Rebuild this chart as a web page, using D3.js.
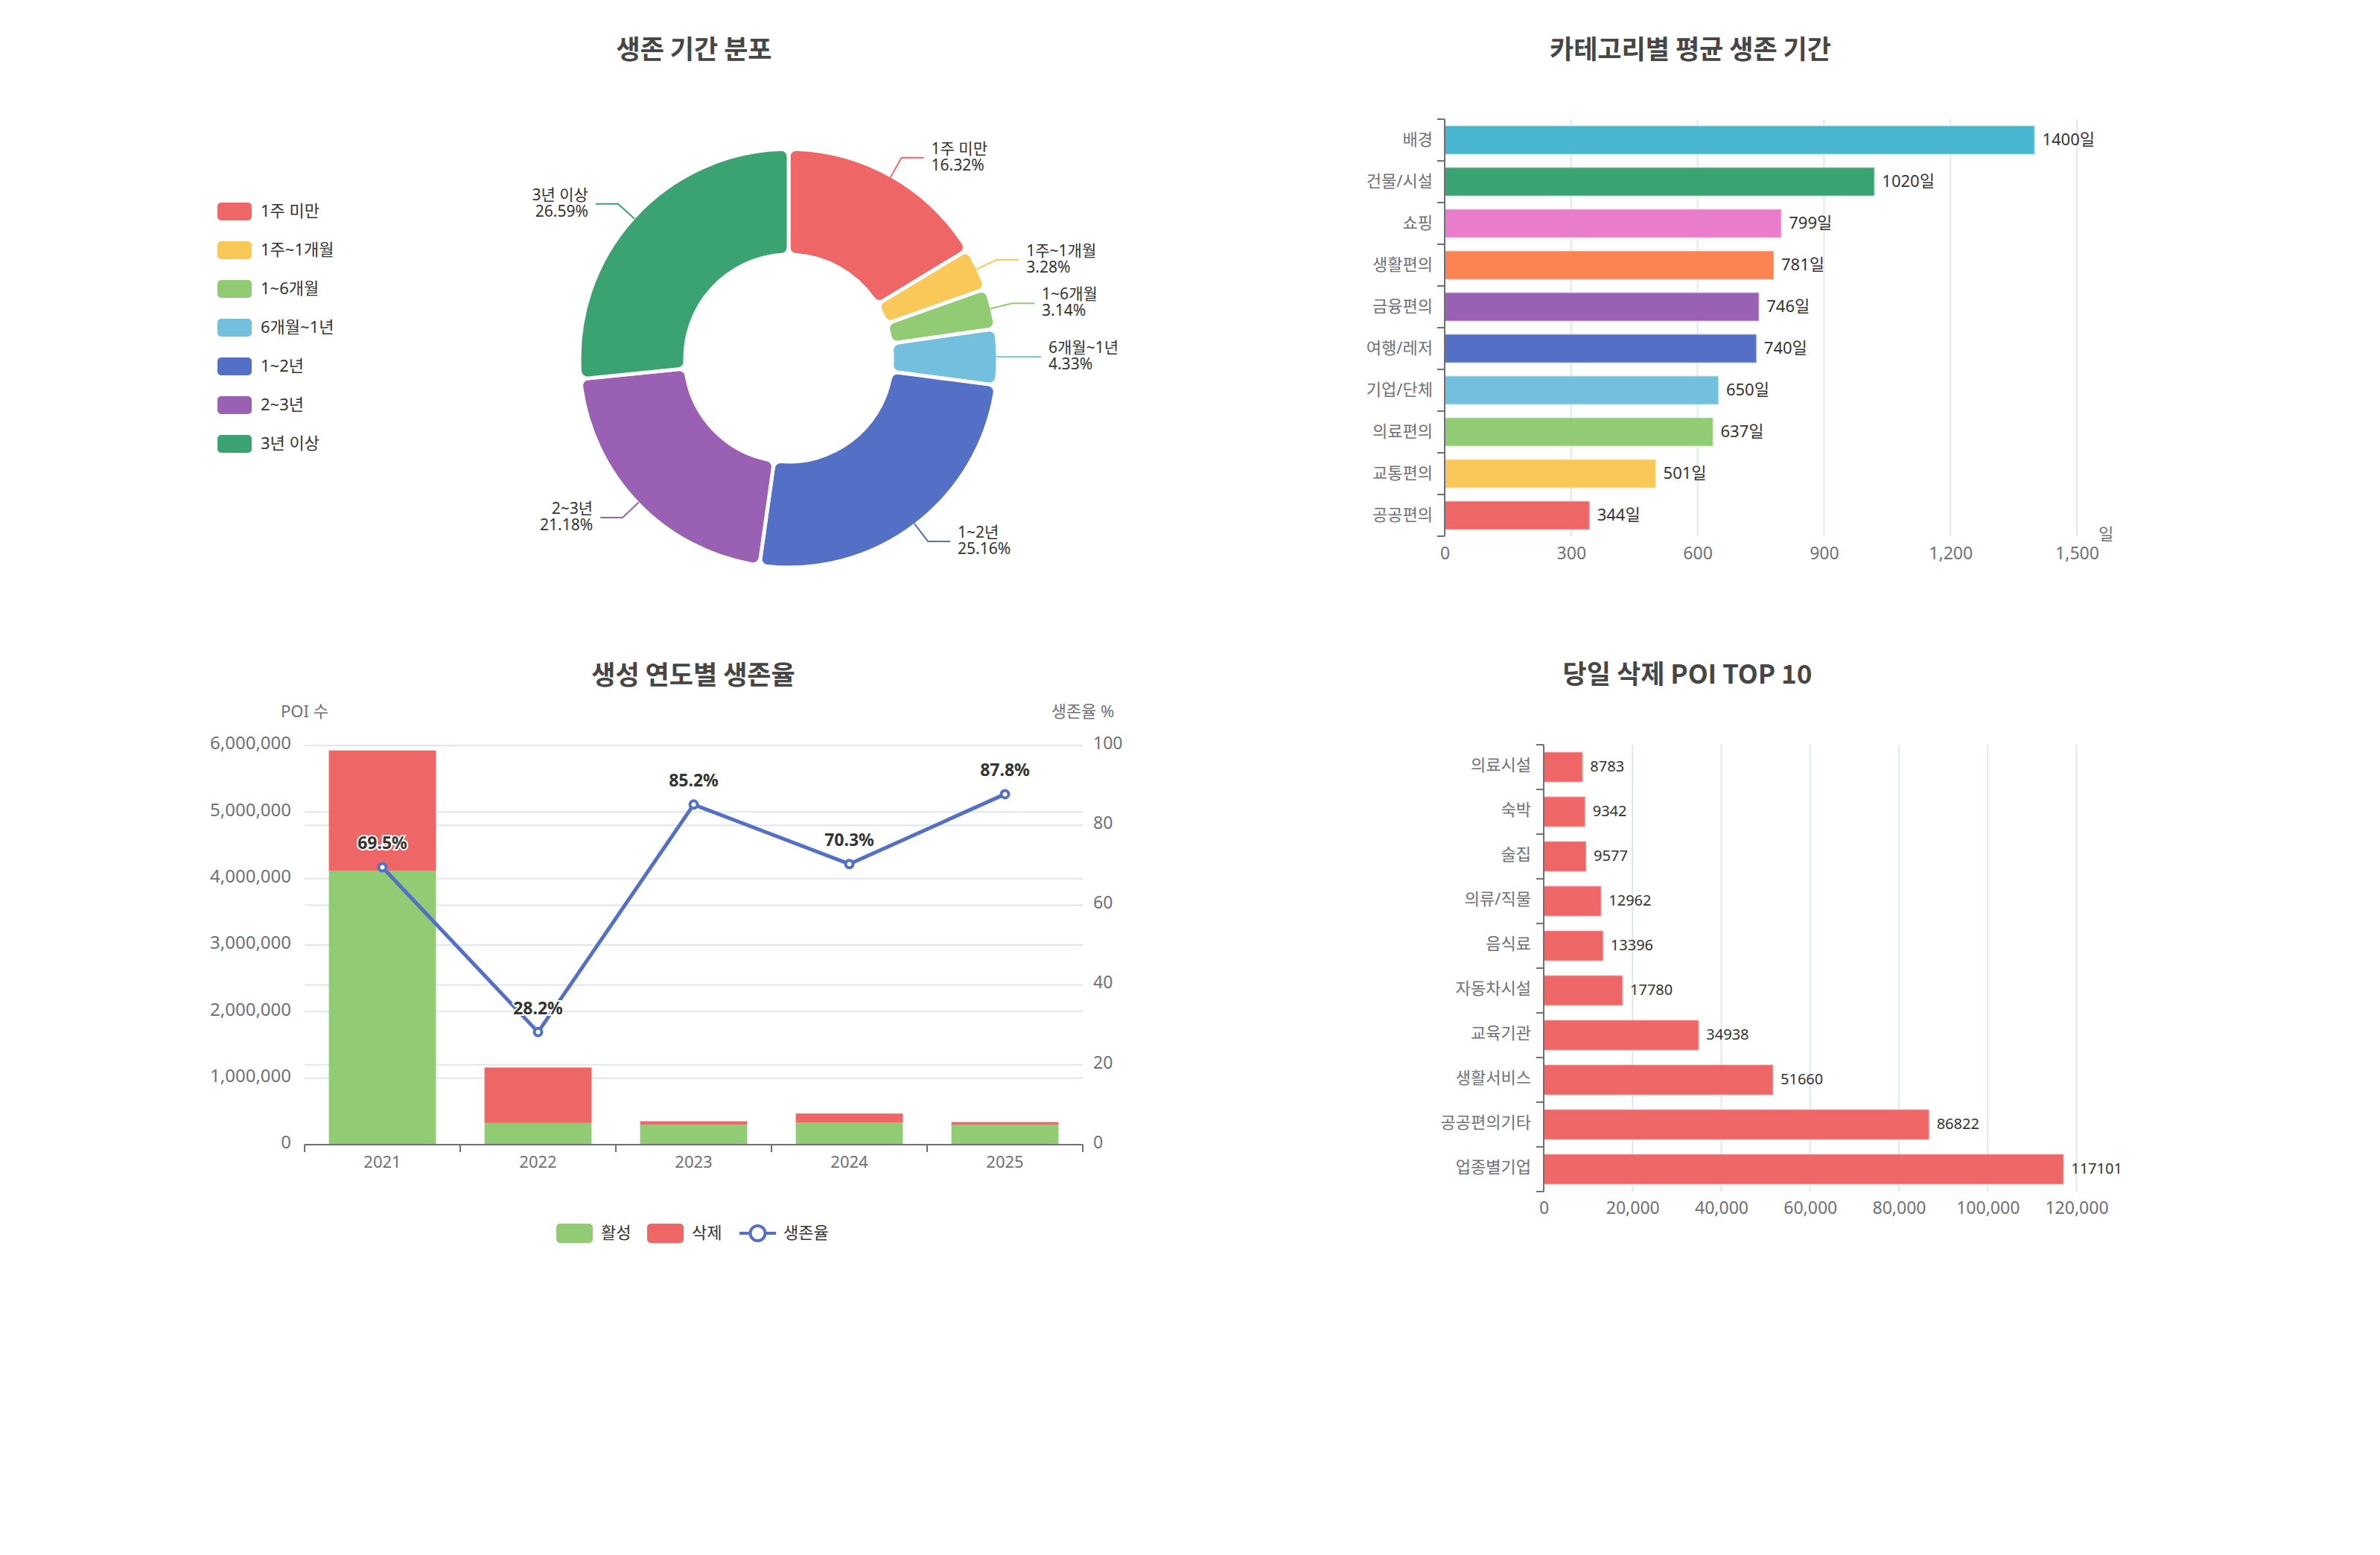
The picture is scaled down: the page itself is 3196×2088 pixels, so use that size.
<!DOCTYPE html>
<html>
<head>
<meta charset="utf-8">
<script src="https://cdn.jsdelivr.net/npm/d3@7/dist/d3.min.js"></script>
<style>
  html, body { margin: 0; padding: 0; background: #fff; }
  svg { display: block; }
  text { font-family: 'Noto Sans', 'Noto Sans CJK KR', sans-serif; }
  .title { font-family: 'Noto Sans CJK KR', 'Noto Sans', sans-serif; font-weight: 700; font-size: 35px; fill: #464646; }
</style>
</head>
<body>
<svg id="chart" width="3196" height="2088"></svg>
<script>
// ---------- DATA ----------
const pieNames = ['1주 미만', '1주~1개월', '1~6개월', '6개월~1년', '1~2년', '2~3년', '3년 이상'];
const pieValues = [16.32, 3.28, 3.14, 4.33, 25.16, 21.18, 26.59];
const pieColors = ['#ee6666', '#fac858', '#91cc75', '#73c0de', '#5470c6', '#9a60b4', '#3ba272'];

const catNames = ['배경', '건물/시설', '쇼핑', '생활편의', '금융편의', '여행/레저', '기업/단체', '의료편의', '교통편의', '공공편의'];
const catDays = [1400, 1020, 799, 781, 746, 740, 650, 637, 501, 344];
const catColors = ['#48b6d0', '#3ba272', '#ea7ccc', '#fc8452', '#9a60b4', '#5470c6', '#73c0de', '#91cc75', '#fac858', '#ee6666'];
const catTicks = [0, 300, 600, 900, 1200, 1500];

const years = ['2021', '2022', '2023', '2024', '2025'];
const activeCounts = [4120000, 327000, 300000, 329000, 299000];
const deletedCounts = [1805000, 833000, 52000, 139000, 41000];
const survivalRates = [69.5, 28.2, 85.2, 70.3, 87.8];
const countTicks = [0, 1000000, 2000000, 3000000, 4000000, 5000000, 6000000];
const rateTicks = [0, 20, 40, 60, 80, 100];

const delNames = ['의료시설', '숙박', '술집', '의류/직물', '음식료', '자동차시설', '교육기관', '생활서비스', '공공편의기타', '업종별기업'];
const delValues = [8783, 9342, 9577, 12962, 13396, 17780, 34938, 51660, 86822, 117101];
const delTicks = [0, 20000, 40000, 60000, 80000, 100000, 120000];

const AXIS = '#6E7079', GRID = '#E0E6F1', TXT = '#333';
const svg = d3.select('#chart');

function title(x, y, t) {
  svg.append('text').attr('class', 'title').attr('x', x).attr('y', y)
    .attr('text-anchor', 'middle').attr('dominant-baseline', 'central').text(t);
}

// ---------- CHART 1: PIE ----------
title(932, 63, '생존 기간 분포');
{
  const cx = 1059, cy = 481, rIn = 139, rOut = 281;
  const g = svg.append('g').attr('transform', `translate(${cx},${cy})`);
  const pie = d3.pie().sort(null).value(d => d.v);
  const data = pie(pieNames.map((n, i) => ({ n, v: pieValues[i], c: pieColors[i] })));
  const arc = d3.arc().innerRadius(rIn).outerRadius(rOut).cornerRadius(10);
  g.selectAll('path.slice').data(data).join('path').attr('class', 'slice')
    .attr('d', arc).attr('fill', d => d.data.c)
    .attr('stroke', '#fff').attr('stroke-width', 5).attr('stroke-linejoin', 'round');
  data.forEach(d => {
    const a = (d.startAngle + d.endAngle) / 2;
    const sx = Math.sin(a), sy = -Math.cos(a);
    const p0 = [sx * 279, sy * 279];
    const p1 = [sx * 309, sy * 309];
    const right = sx >= 0;
    const p2 = [p1[0] + (right ? 30 : -30), p1[1]];
    g.append('polyline').attr('points', [p0, p1, p2].map(p => p.join(',')).join(' '))
      .attr('fill', 'none').attr('stroke', d.data.c).attr('stroke-width', 2);
    const tx = p2[0] + (right ? 10 : -10);
    const t = g.append('text').attr('x', tx).attr('y', p2[1])
      .attr('text-anchor', right ? 'start' : 'end').attr('font-size', 21).attr('fill', TXT);
    t.append('tspan').attr('x', tx).attr('dy', -13).attr('dominant-baseline', 'central').text(d.data.n);
    t.append('tspan').attr('x', tx).attr('dy', 22).attr('dominant-baseline', 'central').text(d.data.v.toFixed(2) + '%');
  });
  // legend
  const lg = svg.append('g');
  pieNames.forEach((n, i) => {
    const y = 284 + i * 52;
    lg.append('rect').attr('x', 292).attr('y', y - 12).attr('width', 46).attr('height', 24)
      .attr('rx', 5).attr('fill', pieColors[i]);
    lg.append('text').attr('x', 350).attr('y', y - 2).attr('dominant-baseline', 'central')
      .attr('font-size', 22).attr('fill', TXT).text(n);
  });
}

// ---------- CHART 2: CATEGORY AVG SURVIVAL ----------
title(2270, 63, '카테고리별 평균 생존 기간');
{
  const x = d3.scaleLinear().domain([0, 1500]).range([1940, 2789]);
  const y = d3.scaleBand().domain(catNames).range([160, 720]);
  const g = svg.append('g');
  g.selectAll('line.grid').data(catTicks.slice(1)).join('line')
    .attr('x1', d => x(d)).attr('x2', d => x(d)).attr('y1', 160).attr('y2', 720)
    .attr('stroke', GRID).attr('stroke-width', 2);
  const bh = y.bandwidth() * 0.69;
  g.selectAll('rect.bar').data(catNames).join('rect')
    .attr('x', x(0)).attr('y', d => y(d) + (y.bandwidth() - bh) / 2)
    .attr('width', (d, i) => x(catDays[i]) - x(0)).attr('height', bh)
    .attr('fill', (d, i) => catColors[i]).attr('stroke', 'rgba(255,255,255,0.4)').attr('stroke-width', 2);
  g.selectAll('text.val').data(catNames).join('text')
    .attr('x', (d, i) => x(catDays[i]) + 10).attr('y', d => y(d) + y.bandwidth() / 2 - 2)
    .attr('dominant-baseline', 'central').attr('font-size', 22).attr('fill', TXT)
    .text((d, i) => catDays[i] + '일');
  // y axis
  const ya = g.append('g').attr('transform', `translate(${x(0)},0)`)
    .call(d3.axisLeft(y).tickSize(0).tickPadding(16));
  ya.select('.domain').remove();
  ya.selectAll('text').attr('font-size', 22).attr('fill', AXIS).attr('font-family', null);
  g.append('line').attr('x1', x(0)).attr('x2', x(0)).attr('y1', 160).attr('y2', 720)
    .attr('stroke', AXIS).attr('stroke-width', 2);
  const bounds = catNames.map(d => y(d)).concat([720]);
  g.selectAll('line.btick').data(bounds).join('line')
    .attr('x1', x(0) - 10).attr('x2', x(0)).attr('y1', d => d).attr('y2', d => d)
    .attr('stroke', AXIS).attr('stroke-width', 2);
  // x axis labels
  const xa = g.append('g').attr('transform', 'translate(0,720)')
    .call(d3.axisBottom(x).tickValues(catTicks).tickSize(0).tickPadding(15).tickFormat(d3.format(',')));
  xa.select('.domain').remove();
  xa.selectAll('text').attr('font-size', 23).attr('fill', AXIS).attr('font-family', null);
  g.append('text').attr('x', 2818).attr('y', 716).attr('dominant-baseline', 'central')
    .attr('font-size', 22).attr('fill', AXIS).text('일');
}

// ---------- CHART 3: SURVIVAL BY YEAR ----------
title(931, 903, '생성 연도별 생존율');
{
  const x = d3.scaleBand().domain(years).range([409, 1454]);
  const yL = d3.scaleLinear().domain([0, 6000000]).range([1537, 1001]);
  const yR = d3.scaleLinear().domain([0, 100]).range([1537, 1001]);
  const g = svg.append('g');
  g.selectAll('line.gl').data(countTicks).join('line')
    .attr('x1', 409).attr('x2', 1454).attr('y1', d => yL(d)).attr('y2', d => yL(d))
    .attr('stroke', GRID).attr('stroke-width', 2);
  g.selectAll('line.gr').data(rateTicks).join('line')
    .attr('x1', 409).attr('x2', 1454).attr('y1', d => yR(d)).attr('y2', d => yR(d))
    .attr('stroke', GRID).attr('stroke-width', 2);
  const bw = x.bandwidth() * 0.688;
  const bx = d => x(d) + (x.bandwidth() - bw) / 2;
  g.selectAll('rect.act').data(years).join('rect')
    .attr('x', bx).attr('width', bw)
    .attr('y', (d, i) => yL(activeCounts[i])).attr('height', (d, i) => yL(0) - yL(activeCounts[i]))
    .attr('fill', '#91cc75');
  g.selectAll('rect.del').data(years).join('rect')
    .attr('x', bx).attr('width', bw)
    .attr('y', (d, i) => yL(activeCounts[i] + deletedCounts[i]))
    .attr('height', (d, i) => yL(activeCounts[i]) - yL(activeCounts[i] + deletedCounts[i]))
    .attr('fill', '#ee6666');
  // left axis labels
  const la = g.append('g').attr('transform', 'translate(409,-3)')
    .call(d3.axisLeft(yL).tickValues(countTicks).tickSize(0).tickPadding(18).tickFormat(d3.format(',')));
  la.select('.domain').remove();
  la.selectAll('text').attr('font-size', 24).attr('fill', AXIS).attr('font-family', null);
  const ra = g.append('g').attr('transform', 'translate(1454,-3)')
    .call(d3.axisRight(yR).tickValues(rateTicks).tickSize(0).tickPadding(14));
  ra.select('.domain').remove();
  ra.selectAll('text').attr('font-size', 23).attr('fill', AXIS).attr('font-family', null);
  // x axis
  g.append('line').attr('x1', 409).attr('x2', 1454).attr('y1', 1537).attr('y2', 1537)
    .attr('stroke', AXIS).attr('stroke-width', 2);
  const bounds = years.map(d => x(d)).concat([1454]);
  g.selectAll('line.xt').data(bounds).join('line')
    .attr('x1', d => d).attr('x2', d => d).attr('y1', 1537).attr('y2', 1547)
    .attr('stroke', AXIS).attr('stroke-width', 2);
  const xa = g.append('g').attr('transform', 'translate(0,1537)')
    .call(d3.axisBottom(x).tickSize(0).tickPadding(15));
  xa.select('.domain').remove();
  xa.selectAll('text').attr('font-size', 22).attr('fill', AXIS).attr('font-family', null);
  // axis names
  g.append('text').attr('x', 409).attr('y', 954).attr('text-anchor', 'middle').attr('dominant-baseline', 'central')
    .attr('font-size', 22).attr('fill', AXIS).text('POI 수');
  g.append('text').attr('x', 1454).attr('y', 954).attr('text-anchor', 'middle').attr('dominant-baseline', 'central')
    .attr('font-size', 22).attr('fill', AXIS).text('생존율 %');
  // line
  const cxp = d => x(d) + x.bandwidth() / 2;
  const line = d3.line().x((d, i) => cxp(years[i])).y(d => yR(d));
  g.append('path').attr('d', line(survivalRates)).attr('fill', 'none')
    .attr('stroke', '#5470c6').attr('stroke-width', 5).attr('stroke-linejoin', 'round');
  g.selectAll('circle.pt').data(survivalRates).join('circle')
    .attr('cx', (d, i) => cxp(years[i])).attr('cy', d => yR(d)).attr('r', 5)
    .attr('fill', '#fff').attr('stroke', '#5470c6').attr('stroke-width', 4);
  g.selectAll('text.rl').data(survivalRates).join('text')
    .attr('x', (d, i) => cxp(years[i])).attr('y', d => yR(d) - 33)
    .attr('text-anchor', 'middle').attr('dominant-baseline', 'central')
    .attr('font-size', 23).attr('font-weight', 700).attr('fill', TXT)
    .attr('stroke', '#fff').attr('stroke-width', 4).attr('paint-order', 'stroke')
    .text(d => d.toFixed(1) + '%');
  // legend
  const ly = 1656;
  g.append('rect').attr('x', 747).attr('y', ly - 13).attr('width', 49).attr('height', 26).attr('rx', 5).attr('fill', '#91cc75');
  g.append('text').attr('x', 807).attr('y', ly - 2).attr('dominant-baseline', 'central').attr('font-size', 22).attr('fill', TXT).text('활성');
  g.append('rect').attr('x', 869).attr('y', ly - 13).attr('width', 49).attr('height', 26).attr('rx', 5).attr('fill', '#ee6666');
  g.append('text').attr('x', 929).attr('y', ly - 2).attr('dominant-baseline', 'central').attr('font-size', 22).attr('fill', TXT).text('삭제');
  g.append('line').attr('x1', 993).attr('x2', 1042).attr('y1', ly).attr('y2', ly).attr('stroke', '#5470c6').attr('stroke-width', 4);
  g.append('circle').attr('cx', 1017.5).attr('cy', ly).attr('r', 10).attr('fill', '#fff').attr('stroke', '#5470c6').attr('stroke-width', 4);
  g.append('text').attr('x', 1052).attr('y', ly - 2).attr('dominant-baseline', 'central').attr('font-size', 22).attr('fill', TXT).text('생존율');
}

// ---------- CHART 4: SAME-DAY DELETED TOP 10 ----------
title(2266, 902, '당일 삭제 POI TOP 10');
{
  const x = d3.scaleLinear().domain([0, 120000]).range([2073, 2788.5]);
  const y = d3.scaleBand().domain(delNames).range([1000, 1600]);
  const g = svg.append('g');
  g.selectAll('line.grid').data(delTicks.slice(1)).join('line')
    .attr('x1', d => x(d)).attr('x2', d => x(d)).attr('y1', 1000).attr('y2', 1600)
    .attr('stroke', GRID).attr('stroke-width', 2);
  const bh = y.bandwidth() * 0.68;
  g.selectAll('rect.bar').data(delNames).join('rect')
    .attr('x', x(0)).attr('y', d => y(d) + (y.bandwidth() - bh) / 2)
    .attr('width', (d, i) => x(delValues[i]) - x(0)).attr('height', bh)
    .attr('fill', '#ee6666').attr('stroke', 'rgba(255,255,255,0.35)').attr('stroke-width', 2);
  g.selectAll('text.val').data(delNames).join('text')
    .attr('x', (d, i) => x(delValues[i]) + 10).attr('y', d => y(d) + y.bandwidth() / 2 - 2)
    .attr('dominant-baseline', 'central').attr('font-size', 20).attr('fill', TXT)
    .text((d, i) => delValues[i]);
  const ya = g.append('g').attr('transform', `translate(${x(0)},-2)`)
    .call(d3.axisLeft(y).tickSize(0).tickPadding(17));
  ya.select('.domain').remove();
  ya.selectAll('text').attr('font-size', 22).attr('fill', AXIS).attr('font-family', null);
  g.append('line').attr('x1', x(0)).attr('x2', x(0)).attr('y1', 1000).attr('y2', 1600)
    .attr('stroke', AXIS).attr('stroke-width', 2);
  const bounds = delNames.map(d => y(d)).concat([1600]);
  g.selectAll('line.btick').data(bounds).join('line')
    .attr('x1', x(0) - 10).attr('x2', x(0)).attr('y1', d => d).attr('y2', d => d)
    .attr('stroke', AXIS).attr('stroke-width', 2);
  const xa = g.append('g').attr('transform', 'translate(0,1600)')
    .call(d3.axisBottom(x).tickValues(delTicks).tickSize(0).tickPadding(14).tickFormat(d3.format(',')));
  xa.select('.domain').remove();
  xa.selectAll('text').attr('font-size', 23).attr('fill', AXIS).attr('font-family', null);
}
</script>
</body>
</html>
